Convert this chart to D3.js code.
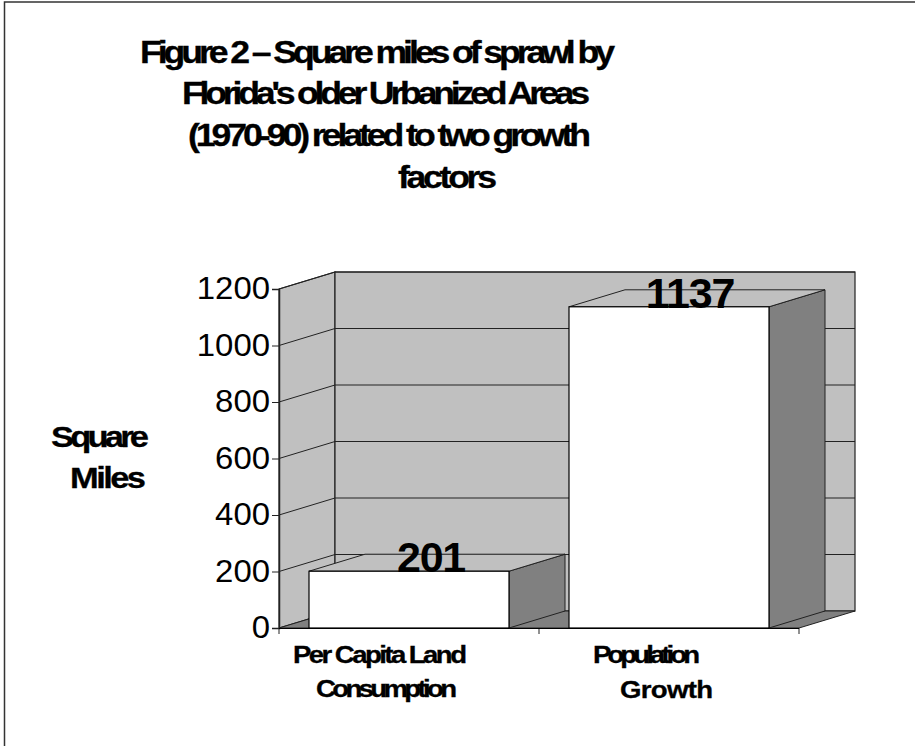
<!DOCTYPE html>
<html>
<head>
<meta charset="utf-8">
<script src="https://cdn.jsdelivr.net/npm/d3@7"></script>
<style>
html, body { margin: 0; padding: 0; background: #fff; }
svg { display: block; }
text { font-family: "Liberation Sans", Arial, sans-serif; fill: #000; }
</style>
</head>
<body>
<div id="chart"></div>
<script>
"use strict";
const categories = ["Per Capita Land Consumption", "Population Growth"];
const values = [201, 1137];
const yTicks = [0, 200, 400, 600, 800, 1000, 1200];
const titleLines = [
    "Figure 2 – Square miles of sprawl by",
    "Florida's older Urbanized Areas",
    "(1970-90) related to two growth",
    "factors"
];
const yLabelLines = ["Square", "Miles"];
const categoryLines = [["Per Capita Land", "Consumption"], ["Population", "Growth"]];

const width = 915, height = 746;
const depth = { x: 56, y: -17 };
const plot = { left: 279, right: 799, top: 289, bottom: 628 };

const svg = d3.select("#chart").append("svg")
    .attr("width", width)
    .attr("height", height);

// page frame
svg.append("path")
    .attr("d", `M4.5,${height}V2H${width}`)
    .attr("fill", "none")
    .attr("stroke", "#333")
    .attr("stroke-width", 1.5);

let y = d3.scaleLinear().domain([0, 1200]).range([plot.bottom, plot.top]);
let x = d3.scaleBand().domain(categories).range([plot.left, plot.right]);
const barWidth = x.bandwidth() * 200 / 260;

const line = d3.line();
const edge = "#222";

// walls and floor
svg.append("path")
    .attr("d", line([[plot.left, plot.top], [plot.left + depth.x, plot.top + depth.y],
        [plot.left + depth.x, plot.bottom + depth.y], [plot.left, plot.bottom]]) + "Z")
    .attr("fill", "#c0c0c0").attr("stroke", edge).attr("stroke-width", 1.2);
svg.append("rect")
    .attr("x", plot.left + depth.x).attr("y", plot.top + depth.y)
    .attr("width", plot.right - plot.left).attr("height", plot.bottom - plot.top)
    .attr("fill", "#c0c0c0").attr("stroke", edge).attr("stroke-width", 1.2);
svg.append("path")
    .attr("d", line([[plot.left, plot.bottom], [plot.right, plot.bottom],
        [plot.right + depth.x, plot.bottom + depth.y], [plot.left + depth.x, plot.bottom + depth.y]]) + "Z")
    .attr("fill", "#808080").attr("stroke", edge).attr("stroke-width", 1);

// gridlines, running round the side wall and along the back
svg.append("g").selectAll("path")
    .data(yTicks.slice(1))
    .enter()
    .append("path")
    .attr("d", d => line([[plot.left, y(d)], [plot.left + depth.x, y(d) + depth.y],
        [plot.right + depth.x, y(d) + depth.y]]))
    .attr("fill", "none").attr("stroke", edge).attr("stroke-width", 1);

// axes
svg.append("g")
    .attr("transform", `translate(${plot.left},0)`)
    .call(d3.axisLeft(y).tickValues(yTicks).tickSize(7).tickPadding(2).tickFormat(d3.format("d")))
    .call(g => g.select(".domain").attr("stroke", edge).attr("stroke-width", 1.5))
    .call(g => g.selectAll("line").attr("stroke", edge))
    .call(g => g.selectAll("text")
        .attr("font-family", "Liberation Sans").attr("font-size", 31).attr("fill", "#000")
        .attr("lengthAdjust", "spacingAndGlyphs")
        .attr("textLength", d => String(d).length * 18.3));

const xEdges = [plot.left, (plot.left + plot.right) / 2, plot.right];
svg.append("g").selectAll("line")
    .data(xEdges)
    .enter()
    .append("line")
    .attr("x1", d => d).attr("x2", d => d)
    .attr("y1", plot.bottom).attr("y2", plot.bottom + 6)
    .attr("stroke", edge);
svg.append("line")
    .attr("x1", plot.left).attr("x2", plot.right)
    .attr("y1", plot.bottom + 0.5).attr("y2", plot.bottom + 0.5)
    .attr("stroke", "#000").attr("stroke-width", 1.2);

// bars
const bars = svg.append("g").selectAll("g")
    .data(categories.map((c, i) => ({ name: c, value: values[i] })))
    .enter()
    .append("g");
bars.append("path") // side
    .attr("d", d => {
        const x1 = x(d.name) + (x.bandwidth() - barWidth) / 2 + barWidth;
        return line([[x1, y(d.value)], [x1 + depth.x, y(d.value) + depth.y],
            [x1 + depth.x, plot.bottom + depth.y], [x1, plot.bottom]]) + "Z";
    })
    .attr("fill", "#808080").attr("stroke", edge);
bars.append("path") // top
    .attr("d", d => {
        const x0 = x(d.name) + (x.bandwidth() - barWidth) / 2, x1 = x0 + barWidth;
        return line([[x0, y(d.value)], [x1, y(d.value)],
            [x1 + depth.x, y(d.value) + depth.y], [x0 + depth.x, y(d.value) + depth.y]]) + "Z";
    })
    .attr("fill", "#c0c0c0").attr("stroke", edge);
bars.append("rect") // front
    .attr("x", d => x(d.name) + (x.bandwidth() - barWidth) / 2)
    .attr("y", d => y(d.value))
    .attr("width", barWidth)
    .attr("height", d => plot.bottom - y(d.value))
    .attr("fill", "#fff").attr("stroke", "#000").attr("stroke-width", 1.2);

// value labels
const valueLabelX = [431, 690];
bars.append("text")
    .attr("x", (d, i) => valueLabelX[i])
    .attr("y", d => y(d.value) + 1)
    .attr("text-anchor", "middle")
    .attr("font-size", 43).attr("font-weight", "bold")
    .attr("letter-spacing", -1.2)
    .text(d => d.value);

const stretch = 1.15;
function addText(str, x0, x1, base, size) {
    svg.append("text")
        .attr("transform", `translate(${x0},${base}) scale(${stretch},1)`)
        .attr("font-size", size).attr("font-weight", "bold")
        .attr("stroke", "#000").attr("stroke-width", 0.3)
        .attr("textLength", (x1 - x0) / stretch).attr("lengthAdjust", "spacing")
        .text(str);
}

const titleExtents = [[140, 615, 62.5], [182, 590, 104], [188, 591, 145.5], [398, 497, 187.5]];
titleLines.forEach((s, i) => addText(s, titleExtents[i][0], titleExtents[i][1], titleExtents[i][2], 31));

const yLabelExtents = [[51, 149, 447], [70, 146, 488]];
yLabelLines.forEach((s, i) => addText(s, yLabelExtents[i][0], yLabelExtents[i][1], yLabelExtents[i][2], 30));

const categoryExtents = [[[293, 467, 663], [316, 457, 697]], [[593, 700, 663], [620, 713, 698]]];
categoryLines.forEach((lines, i) => lines.forEach((s, j) => {
    const e = categoryExtents[i][j];
    addText(s, e[0], e[1], e[2], 24);
}));
</script>
</body>
</html>
